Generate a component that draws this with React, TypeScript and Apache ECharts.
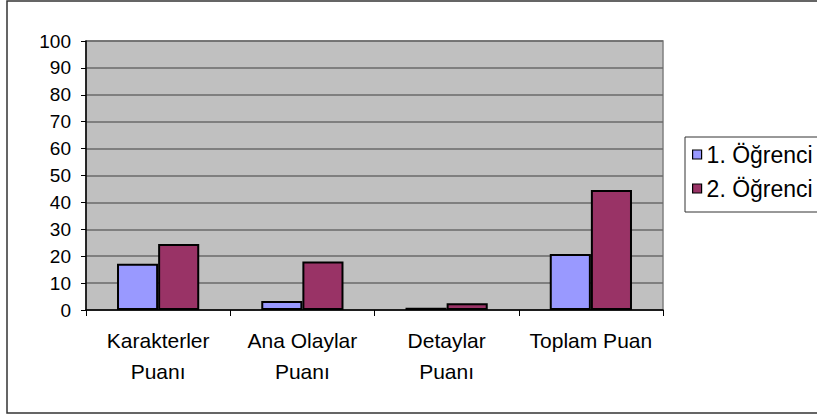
import React, { useEffect, useRef } from "react";
import * as echarts from "echarts";

const categories = ["Karakterler\nPuanı", "Ana Olaylar\nPuanı", "Detaylar\nPuanı", "Toplam Puan"];
const seriesNames = ["1. Öğrenci", "2. Öğrenci"];
const student1 = [17.2, 3.3, 0.8, 20.8];
const student2 = [24.5, 18, 2.5, 44.6];
const colors = ["#9999FF", "#993366"];

export default function App() {
  const ref = useRef<HTMLDivElement>(null);
  useEffect(() => {
    document.body.style.margin = "0";
    const chart = echarts.init(ref.current!, null, { renderer: "svg" });
    const font = "Arial, 'Liberation Sans', sans-serif";
    chart.setOption({
      animation: false,
      backgroundColor: "#ffffff",
      textStyle: { fontFamily: font },
      grid: {
        left: 86,
        right: 817 - 663,
        top: 41,
        bottom: 415 - 310,
        show: true,
        backgroundColor: "#C0C0C0",
        borderColor: "#808080",
        borderWidth: 1.5,
      },
      legend: {
        left: 692,
        top: 143,
        orient: "vertical",
        itemWidth: 9,
        itemHeight: 9,
        itemGap: 11,
        icon: "rect",
        padding: 0,
        itemStyle: { borderColor: "#000", borderWidth: 1.2 },
        textStyle: { fontFamily: font, fontSize: 23, color: "#000" },
        data: seriesNames,
      },
      graphic: [
        {
          type: "rect",
          shape: { x: 7, y: 1, width: 830, height: 412 },
          style: { fill: "none", stroke: "#333", lineWidth: 1.5 },
          z: 100,
        },
        {
          type: "rect",
          shape: { x: 685, y: 137, width: 150, height: 75 },
          style: { fill: "none", stroke: "#333", lineWidth: 1 },
          z: 100,
        },
      ],
      xAxis: {
        type: "category",
        data: categories,
        axisLine: { lineStyle: { color: "#000", width: 1.5 } },
        axisTick: { show: true, length: 6, inside: false, lineStyle: { color: "#000" } },
        axisLabel: {
          color: "#000",
          fontSize: 21,
          fontFamily: font,
          lineHeight: 31,
          margin: 15,
          interval: 0,
        },
      },
      yAxis: {
        type: "value",
        min: 0,
        max: 100,
        interval: 10,
        axisLine: { show: true, lineStyle: { color: "#000", width: 1.5 } },
        axisTick: { show: true, length: 5, lineStyle: { color: "#000" } },
        axisLabel: { color: "#000", fontSize: 19, fontFamily: font, margin: 15 },
        splitLine: { show: true, lineStyle: { color: "#6a6a6a", width: 1.5 } },
      },
      series: [
        {
          name: seriesNames[0],
          type: "bar",
          data: student1,
          barGap: "0%",
          barCategoryGap: "43%",
          itemStyle: { color: colors[0], borderColor: "#000", borderWidth: 2 },
        },
        {
          name: seriesNames[1],
          type: "bar",
          data: student2,
          barGap: "0%",
          barCategoryGap: "43%",
          itemStyle: { color: colors[1], borderColor: "#000", borderWidth: 2 },
        },
      ],
    });
    return () => chart.dispose();
  }, []);
  return <div ref={ref} style={{ width: 817, height: 415 }} />;
}
